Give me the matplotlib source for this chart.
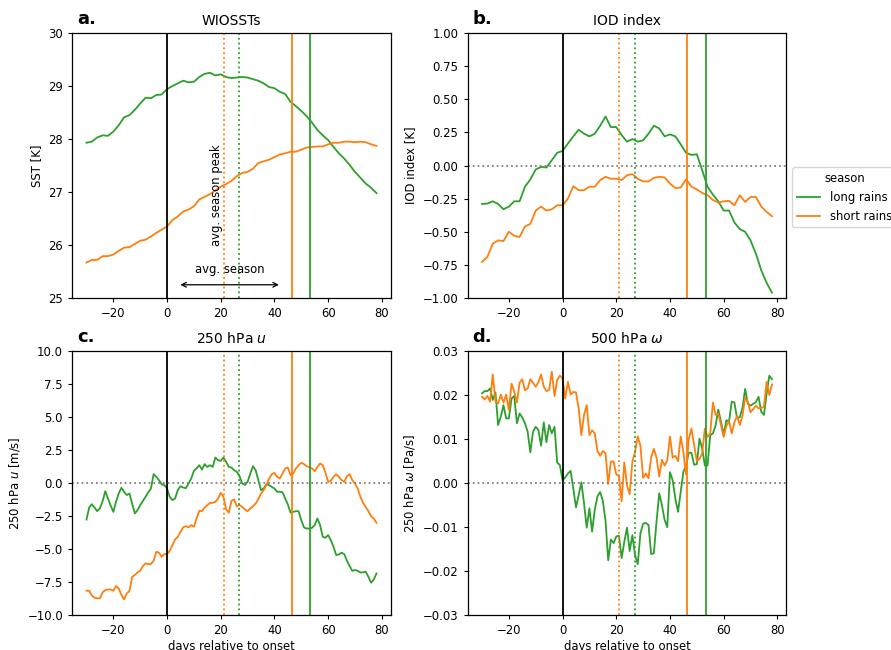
import numpy as np
import matplotlib
matplotlib.use("Agg")
import matplotlib.pyplot as plt

# ---- data ----
days_2 = np.arange(-30, 79, 2)
days = np.arange(-30, 79)

sst_long = [27.93, 27.95, 28.03, 28.07, 28.06, 28.14, 28.26, 28.41, 28.45, 28.55,
            28.67, 28.78, 28.77, 28.83, 28.84, 28.94, 29.00, 29.05, 29.10, 29.07,
            29.08, 29.17, 29.23, 29.25, 29.20, 29.22, 29.17, 29.15, 29.16, 29.17,
            29.16, 29.13, 29.10, 29.05, 28.98, 28.96, 28.89, 28.85, 28.70, 28.62,
            28.53, 28.43, 28.31, 28.17, 28.07, 27.98, 27.85, 27.73, 27.63, 27.51,
            27.38, 27.27, 27.16, 27.08, 26.98]
sst_short = [25.67, 25.72, 25.72, 25.79, 25.79, 25.82, 25.89, 25.95, 25.96, 26.02,
             26.08, 26.10, 26.16, 26.23, 26.29, 26.35, 26.47, 26.54, 26.63, 26.67,
             26.73, 26.86, 26.91, 26.96, 27.03, 27.10, 27.15, 27.21, 27.30, 27.36,
             27.38, 27.44, 27.55, 27.58, 27.61, 27.66, 27.71, 27.73, 27.76, 27.76,
             27.80, 27.84, 27.85, 27.86, 27.86, 27.90, 27.93, 27.93, 27.95, 27.95,
             27.94, 27.95, 27.94, 27.90, 27.87]

iod_long = [-0.29, -0.287, -0.27, -0.29, -0.33, -0.31, -0.27, -0.27, -0.16, -0.105,
            -0.03, -0.01, -0.015, 0.04, 0.096, 0.11, 0.166, 0.22, 0.27, 0.24,
            0.22, 0.24, 0.30, 0.37, 0.29, 0.29, 0.23, 0.18, 0.20, 0.18,
            0.19, 0.24, 0.30, 0.28, 0.22, 0.235, 0.22, 0.16, 0.096, 0.08,
            0.085, -0.035, -0.16, -0.22, -0.27, -0.34, -0.34, -0.43, -0.48, -0.50,
            -0.565, -0.665, -0.79, -0.885, -0.96]
iod_short = [-0.728, -0.69, -0.59, -0.565, -0.57, -0.50, -0.53, -0.54, -0.46, -0.44,
             -0.34, -0.31, -0.34, -0.33, -0.30, -0.30, -0.25, -0.156, -0.186, -0.186,
             -0.16, -0.16, -0.11, -0.085, -0.10, -0.10, -0.11, -0.073, -0.065, -0.10,
             -0.12, -0.12, -0.093, -0.085, -0.09, -0.136, -0.17, -0.166, -0.103, -0.16,
             -0.18, -0.207, -0.224, -0.26, -0.28, -0.27, -0.267, -0.30, -0.224, -0.275,
             -0.237, -0.237, -0.31, -0.35, -0.383]

u_long = [-2.75, -1.84, -1.59, -1.85, -2.12, -1.90, -1.36, -0.60, -1.16, -1.70,
          -2.17, -1.40, -0.78, -0.35, -0.65, -0.90, -0.78, -1.54, -2.29, -2.04,
          -1.66, -1.35, -1.03, -0.70, -0.40, 0.68, 0.48, 0.23, -0.08, -0.15,
          -0.40, -1.03, -1.28, -1.16, -0.53, -0.23, -0.33, -0.38, -0.03, 0.35,
          0.93, 1.13, 1.36, 1.03, 1.44, 1.23, 1.36, 1.23, 1.94, 1.74,
          1.69, 1.94, 1.61, 1.23, 1.18, 0.98, 0.86, 0.53, -0.03, -0.13,
          0.10, 0.73, 1.28, 0.98, 0.23, -0.53, -0.40, -0.08, -0.15, -0.28,
          -0.40, -0.65, -0.65, -0.68, -1.16, -1.61, -2.24, -2.17, -2.12, -2.12,
          -2.80, -3.35, -3.43, -3.43, -3.38, -3.17, -2.67, -3.17, -4.06, -4.13,
          -3.93, -4.31, -4.81, -5.44, -5.39, -5.26, -5.37, -5.87, -6.27, -6.63,
          -6.57, -6.63, -6.75, -6.75, -6.70, -7.08, -7.53, -7.28, -6.83]
u_short = [-8.14, -8.14, -8.51, -8.66, -8.71, -8.71, -8.26, -8.09, -8.04, -8.04,
           -8.14, -7.78, -7.96, -8.46, -8.79, -8.34, -8.16, -7.08, -6.95, -6.75,
           -6.63, -6.27, -6.07, -6.12, -6.12, -5.87, -5.19, -5.26, -5.57, -5.37,
           -5.37, -5.11, -4.69, -4.26, -4.06, -3.68, -3.35, -3.25, -3.35, -3.17,
           -3.30, -2.67, -2.09, -2.12, -1.84, -1.66, -1.49, -1.49, -1.41, -1.16,
           -0.73, -1.03, -1.99, -2.24, -1.33, -1.23, -1.74, -1.66, -1.79, -1.99,
           -2.12, -1.91, -1.74, -1.54, -1.21, -0.78, -0.53, -0.15, 0.35, 0.68,
           0.78, 0.48, 0.35, 0.73, 1.11, 1.18, 0.60, 0.73, 1.11, 1.36,
           1.54, 1.44, 1.28, 1.23, 1.11, 0.91, 1.23, 1.49, 1.36, 0.78,
           0.10, 0.18, 0.48, 0.68, 0.48, 0.23, 0.10, 0.53, 0.68, 0.23,
           -0.03, -0.40, -1.03, -1.49, -1.79, -2.12, -2.49, -2.67, -3.00]

w_long = [0.0204, 0.0209, 0.0209, 0.0215, 0.0189, 0.0206, 0.0132, 0.0151, 0.0177, 0.0147,
          0.0147, 0.0192, 0.0198, 0.0136, 0.0158, 0.0149, 0.0136, 0.0117, 0.0070, 0.0117,
          0.0128, 0.0121, 0.0085, 0.0138, 0.0093, 0.0132, 0.0113, 0.0128, 0.0047, 0.0041,
          0.0007, 0.0013, 0.0022, 0.0028, -0.0012, -0.0055, -0.0027, 0.0002, -0.0046, -0.0101,
          -0.0057, -0.0110, -0.0060, -0.0030, -0.0020, -0.0040, -0.0085, -0.0175, -0.0128, -0.0136,
          -0.0121, -0.0119, -0.0170, -0.0133, -0.0101, -0.0154, -0.0118, -0.0163, -0.0184, -0.0114,
          -0.0092, -0.0090, -0.0095, -0.0161, -0.0159, -0.0087, -0.0023, -0.0050, -0.0083, -0.0100,
          0.0025, 0.0007, -0.0035, -0.0065, -0.0020, 0.0026, 0.0040, 0.0069, 0.0069, 0.0042,
          0.0043, 0.0101, 0.0079, 0.0040, 0.0040, 0.0109, 0.0113, 0.0131, 0.0167, 0.0140,
          0.0110, 0.0143, 0.0140, 0.0185, 0.0183, 0.0147, 0.0150, 0.0170, 0.0214, 0.0180,
          0.0176, 0.0180, 0.0184, 0.0196, 0.0162, 0.0155, 0.0203, 0.0244, 0.0236]
w_short = [0.0196, 0.0190, 0.0198, 0.0185, 0.0247, 0.0186, 0.0181, 0.0201, 0.0183, 0.0201,
           0.0166, 0.0226, 0.0208, 0.0183, 0.0228, 0.0236, 0.0211, 0.0215, 0.0236, 0.0228,
           0.0219, 0.0229, 0.0247, 0.0219, 0.0209, 0.0212, 0.0253, 0.0198, 0.0234, 0.0244,
           0.0238, 0.0192, 0.0230, 0.0201, 0.0207, 0.0206, 0.0170, 0.0109, 0.0155, 0.0177,
           0.0109, 0.0120, 0.0113, 0.0073, 0.0062, 0.0073, 0.0068, -0.0002, 0.0049, 0.0049,
           0.0020, 0.0016, -0.0041, 0.0047, -0.0005, -0.0025, 0.0049, 0.0071, 0.0106, 0.0085,
           0.0012, 0.0022, 0.0011, 0.0059, 0.0078, 0.0058, 0.0015, 0.0053, 0.0040, 0.0052,
           0.0106, 0.0058, 0.0062, 0.0050, 0.0106, 0.0070, 0.0020, 0.0100, 0.0124, 0.0087,
           0.0050, 0.0055, 0.0068, 0.0124, 0.0105, 0.0113, 0.0183, 0.0155, 0.0158, 0.0132,
           0.0105, 0.0130, 0.0141, 0.0113, 0.0138, 0.0153, 0.0132, 0.0153, 0.0194, 0.0185,
           0.0161, 0.0168, 0.0176, 0.0170, 0.0171, 0.0173, 0.0230, 0.0200, 0.0224]

# mean season peak / end (days after onset)
peak_short, peak_long = 21.2, 26.8
end_short, end_long = 46.5, 53.3

GREEN = "tab:green"
ORANGE = "tab:orange"
LW = 1.3

# the original looks like a larger figure shrunk down, so scale text and ticks
plt.rcParams.update({
    "font.size": 8.4,
    "axes.titlesize": 10,
    "axes.labelsize": 8.4,
    "xtick.labelsize": 8.4,
    "ytick.labelsize": 8.4,
    "legend.fontsize": 8.4,
    "legend.title_fontsize": 8.4,
    "xtick.major.size": 2.9,
    "ytick.major.size": 2.9,
    "axes.linewidth": 0.9,
})


def decorate(ax, zero_line=True):
    ax.axvline(0, color="k", lw=LW)
    ax.axvline(peak_short, color=ORANGE, ls=":", lw=LW)
    ax.axvline(peak_long, color=GREEN, ls=":", lw=LW)
    ax.axvline(end_short, color=ORANGE, lw=LW)
    ax.axvline(end_long, color=GREEN, lw=LW)
    if zero_line:
        ax.axhline(0, color="grey", ls=":", lw=LW)
    ax.set_xlim(-35.4, 83.4)
    ax.set_xticks([-20, 0, 20, 40, 60, 80])


fig = plt.figure(figsize=(8.91, 6.5), dpi=100)
ax_a = fig.add_axes([0.0808, 0.5415, 0.358, 0.4077])
ax_b = fig.add_axes([0.5247, 0.5415, 0.358, 0.4077])
ax_c = fig.add_axes([0.0808, 0.0533, 0.358, 0.4067])
ax_d = fig.add_axes([0.5247, 0.0533, 0.358, 0.4067])

# a. SSTs
ax_a.plot(days_2, sst_long, color=GREEN, lw=LW)
ax_a.plot(days_2, sst_short, color=ORANGE, lw=LW)
decorate(ax_a, zero_line=False)
ax_a.set_ylim(25, 30)
ax_a.set_title("WIOSSTs")
ax_a.set_ylabel("SST [K]")
ax_a.annotate("", xy=(3.9, 25.25), xytext=(42.7, 25.25),
              arrowprops=dict(arrowstyle="<->", color="k", lw=0.9))
ax_a.text(23.3, 25.42, "avg. season", ha="center", va="bottom")
ax_a.text(20.8, 26.95, "avg. season peak", rotation=90, ha="right", va="center")

# b. IOD
l_long, = ax_b.plot(days_2, iod_long, color=GREEN, lw=LW, label="long rains")
l_short, = ax_b.plot(days_2, iod_short, color=ORANGE, lw=LW, label="short rains")
decorate(ax_b)
ax_b.set_ylim(-1, 1)
ax_b.set_yticks(np.arange(-1, 1.01, 0.25))
ax_b.set_title("IOD index")
ax_b.set_ylabel("IOD index [K]")
ax_b.legend(handles=[l_long, l_short], title="season", loc="center left",
            bbox_to_anchor=(1.0, 0.38))

# c. 250 hPa u
ax_c.plot(days, u_long, color=GREEN, lw=LW)
ax_c.plot(days, u_short, color=ORANGE, lw=LW)
decorate(ax_c)
ax_c.set_ylim(-10, 10)
ax_c.set_yticks(np.arange(-10, 10.1, 2.5))
ax_c.set_title("250 hPa $u$")
ax_c.set_ylabel("250 hPa $u$ [m/s]")
ax_c.set_xlabel("days relative to onset", labelpad=2)

# d. 500 hPa omega
ax_d.plot(days, w_long, color=GREEN, lw=LW)
ax_d.plot(days, w_short, color=ORANGE, lw=LW)
decorate(ax_d)
ax_d.set_ylim(-0.03, 0.03)
ax_d.set_yticks(np.arange(-0.03, 0.031, 0.01))
ax_d.set_title("500 hPa $\\omega$")
ax_d.set_ylabel("250 hPa $\\omega$ [Pa/s]")
ax_d.set_xlabel("days relative to onset", labelpad=2)

for ax, letter in zip([ax_a, ax_b, ax_c, ax_d], ["a.", "b.", "c.", "d."]):
    ax.text(0.015, 1.02, letter, transform=ax.transAxes, fontsize=13,
            fontweight="bold", va="bottom", ha="left")

fig.savefig("out.png", dpi=100)
